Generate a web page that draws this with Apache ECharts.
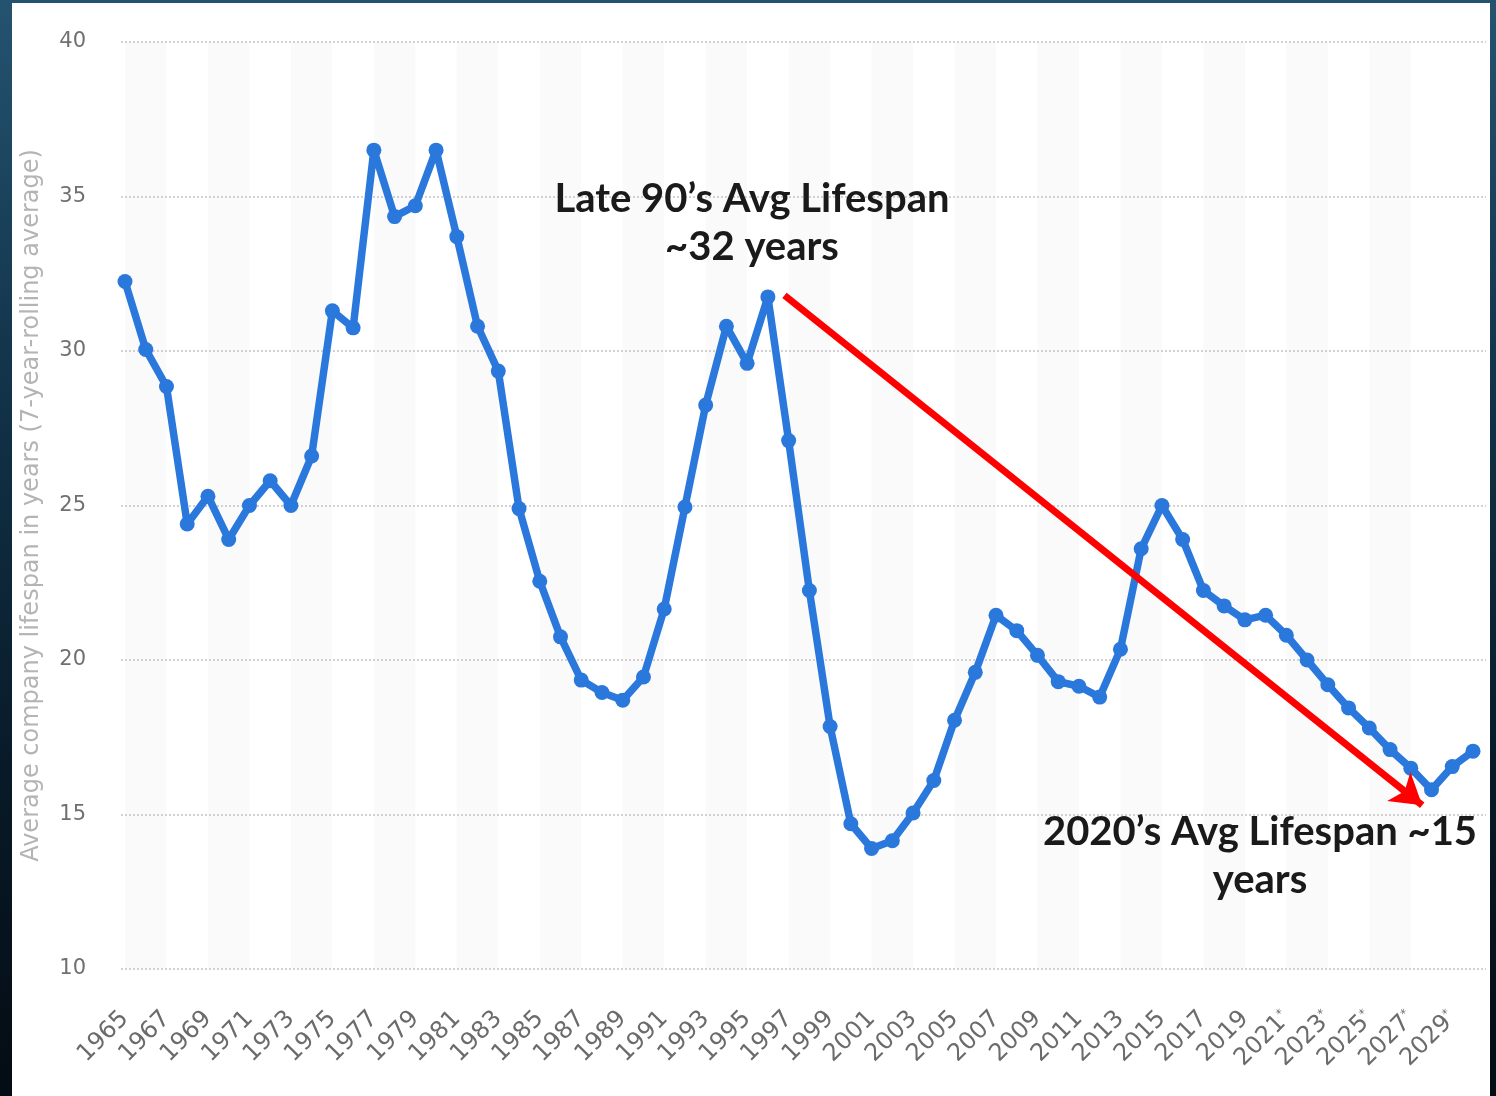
<!DOCTYPE html>
<html>
<head>
<meta charset="utf-8">
<title>Average company lifespan</title>
<script src="https://cdn.jsdelivr.net/npm/echarts@6/dist/echarts.min.js"></script>
<style>
html, body { margin: 0; padding: 0; width: 1496px; height: 1096px; overflow: hidden; }
body { background: linear-gradient(180deg, #245370 0%, #123349 35%, #081a28 70%, #040c14 100%); }
#main { position: absolute; left: 12px; top: 3px; width: 1478px; height: 1093px; background: #ffffff; }
</style>
</head>
<body>
<div id="main"></div>
<script>
// ==============================
// data

var years = ['1965', '1966', '1967', '1968', '1969', '1970', '1971', '1972', '1973', '1974',
	'1975', '1976', '1977', '1978', '1979', '1980', '1981', '1982', '1983', '1984',
	'1985', '1986', '1987', '1988', '1989', '1990', '1991', '1992', '1993', '1994',
	'1995', '1996', '1997', '1998', '1999', '2000', '2001', '2002', '2003', '2004',
	'2005', '2006', '2007', '2008', '2009', '2010', '2011', '2012', '2013', '2014',
	'2015', '2016', '2017', '2018', '2019', '2020', '2021', '2022', '2023', '2024',
	'2025', '2026', '2027', '2028', '2029', '2030'];

// average company lifespan in years (7-year rolling average)
var lifespan = [32.25, 30.05, 28.85, 24.4, 25.3, 23.9, 25.0, 25.8, 25.0, 26.6,
	31.3, 30.75, 36.5, 34.35, 34.7, 36.5, 33.7, 30.8, 29.35, 24.9,
	22.55, 20.75, 19.35, 18.95, 18.7, 19.45, 21.65, 24.95, 28.25, 30.8,
	29.6, 31.75, 27.1, 22.25, 17.85, 14.7, 13.9, 14.15, 15.05, 16.1,
	18.05, 19.6, 21.45, 20.95, 20.15, 19.3, 19.15, 18.8, 20.35, 23.6,
	25.0, 23.9, 22.25, 21.75, 21.3, 21.45, 20.8, 20.0, 19.2, 18.45,
	17.8, 17.1, 16.5, 15.8, 16.55, 17.05];

// y axis ticks
var yMin = 10;
var yMax = 40;
var yStep = 5;

// years from this one on are forecasts (marked with *)
var forecastFrom = 2021;

// red trend arrow, [year, lifespan]
var arrowFrom = [1996.8, 31.8];
var arrowTo = [2027.55, 15.3];

var yTitle = 'Average company lifespan in years (7-year-rolling average)';
var noteLate90s = 'Late 90\u2019s Avg Lifespan\n~32 years';
var note2020s = '2020\u2019s Avg Lifespan ~15\nyears';

// ==============================

var myChart = echarts.init(document.getElementById('main'));

var option = {
	animation : false,
	backgroundColor : '#ffffff',
	grid : [{
				// dotted grid lines, a bit wider than the data
				left : 105,
				right : 4,
				top : 39,
				bottom : 127
			}, {
				// the data itself
				left : 113,
				right : 17,
				top : 39,
				bottom : 127
			}],
	xAxis : [{
				gridIndex : 0,
				type : 'value',
				min : 0,
				max : 1,
				show : false
			}, {
				gridIndex : 1,
				type : 'category',
				data : years,
				boundaryGap : false,
				z : 0,
				axisLine : { show : false },
				axisTick : { show : false },
				splitLine : { show : false },
				splitArea : {
					show : true,
					interval : 1,
					areaStyle : { color : ['#fafafa', '#ffffff'] }
				},
				axisLabel : {
					interval : 1,
					rotate : 45,
					margin : 46,
					fontFamily : 'DejaVu Sans',
					fontSize : 24,
					color : '#6b6b6b',
					formatter : function(v) {
						return (+v >= forecastFrom) ? v + '{s|*}' : v;
					},
					rich : {
						s : { fontSize : 12, color : '#6b6b6b', padding : [0, 0, 10, 0] }
					}
				}
			}, {
				// plain year scale, only used to place the arrow
				gridIndex : 1,
				type : 'value',
				min : +years[0],
				max : +years[years.length - 1],
				show : false
			}],
	yAxis : [{
				gridIndex : 0,
				type : 'value',
				min : yMin,
				max : yMax,
				interval : yStep,
				z : 1,
				name : yTitle,
				nameLocation : 'middle',
				nameGap : 77,
				nameTextStyle : {
					fontFamily : 'DejaVu Sans',
					fontSize : 24,
					color : '#b4b4b4'
				},
				axisLine : { show : false },
				axisTick : { show : false },
				axisLabel : {
					margin : 35,
					fontFamily : 'DejaVu Sans',
					fontSize : 21,
					color : '#707070'
				},
				splitLine : {
					lineStyle : { color : '#c4c4c4', width : 1.5, type : [2, 2] }
				}
			}, {
				gridIndex : 1,
				type : 'value',
				min : yMin,
				max : yMax,
				interval : yStep,
				show : false,
				splitLine : { show : false }
			}],
	series : [{
				type : 'line',
				xAxisIndex : 1,
				yAxisIndex : 1,
				data : lifespan,
				z : 3,
				symbol : 'circle',
				symbolSize : 15,
				showAllSymbol : true,
				lineStyle : { color : '#2b78dc', width : 7.5 },
				itemStyle : { color : '#2b78dc' }
			}, {
				// trend arrow
				type : 'line',
				xAxisIndex : 2,
				yAxisIndex : 1,
				data : [arrowFrom, arrowTo],
				z : 4,
				showSymbol : false,
				lineStyle : { opacity : 0 },
				silent : true,
				markLine : {
					silent : true,
					symbol : ['none', 'arrow'],
					symbolSize : [28, 30],
					label : { show : false },
					lineStyle : { color : '#ff0000', width : 7, type : 'solid' },
					data : [[{ coord : arrowFrom }, { coord : arrowTo }]]
				}
			}],
	graphic : [{
				type : 'text',
				x : 740,
				y : 220,
				z : 10,
				style : {
					text : noteLate90s,
					font : 'bold 40px Lato',
					lineHeight : 48,
					fill : '#1a1a1a',
					textAlign : 'center',
					textVerticalAlign : 'middle'
				}
			}, {
				type : 'text',
				x : 1248,
				y : 853,
				z : 10,
				style : {
					text : note2020s,
					font : 'bold 40px Lato',
					lineHeight : 48,
					fill : '#1a1a1a',
					textAlign : 'center',
					textVerticalAlign : 'middle'
				}
			}]
};

myChart.setOption(option);
</script>
</body>
</html>
